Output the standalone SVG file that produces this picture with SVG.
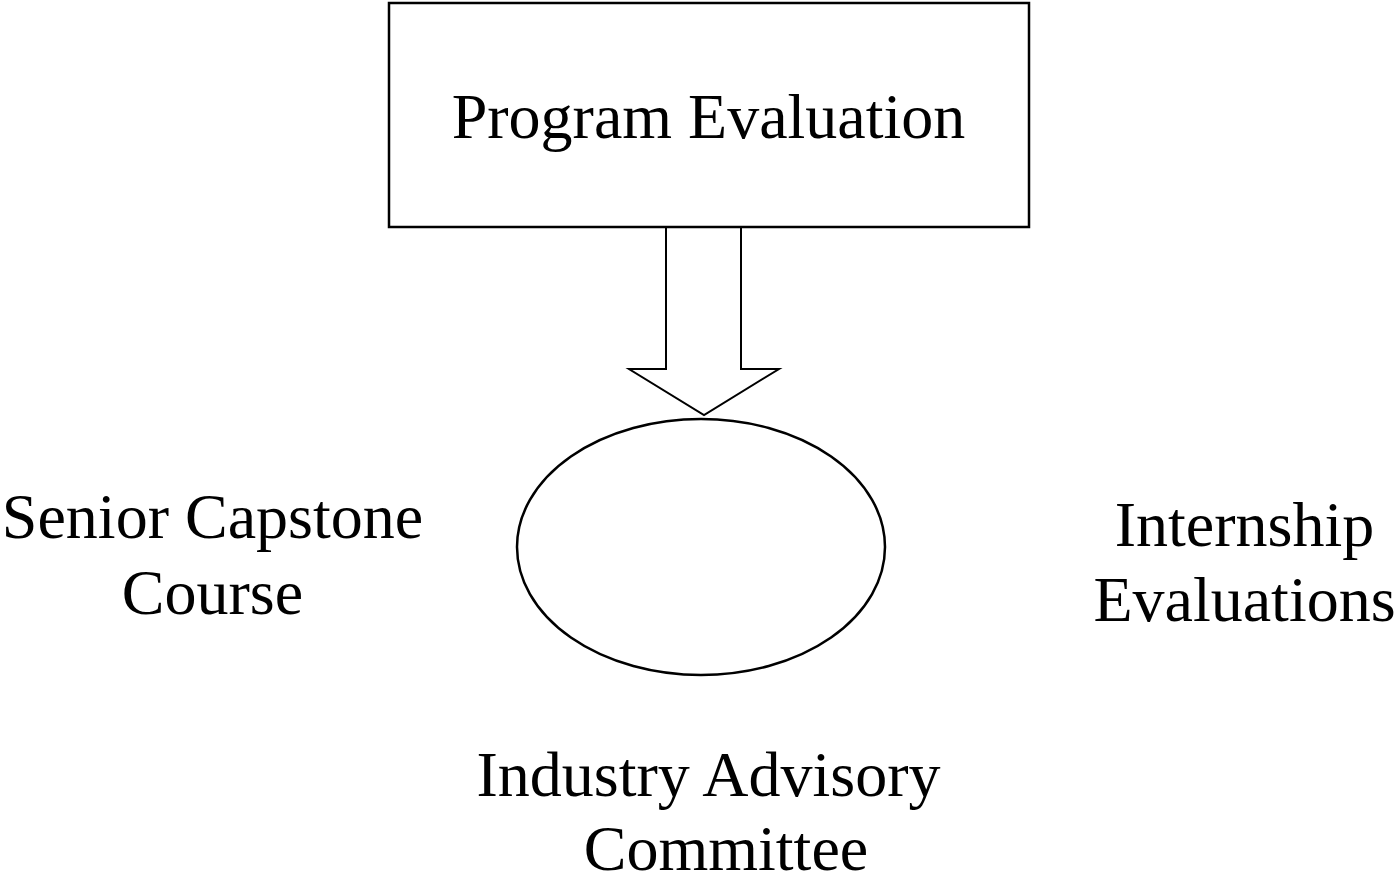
<svg xmlns="http://www.w3.org/2000/svg" width="1395" height="876" viewBox="0 0 1395 876">
  <style>
    .shape { fill: #ffffff; stroke: #000000; stroke-width: 2.5; }
    .arrow { fill: #ffffff; stroke: #000000; stroke-width: 2; stroke-linejoin: miter; }
    .label { font-family: "Liberation Serif", "Times New Roman", serif; font-size: 64px; fill: #000000; text-anchor: middle; }
  </style>
  <rect x="0" y="0" width="1395" height="876" fill="#ffffff"/>
  <g id="connectors">
    <polygon class="arrow" points="666,227 666,369 629,369 704,415 779,369 741,369 741,227"/>
  </g>
  <g id="program-evaluation">
    <rect class="shape" x="389" y="3" width="640" height="224"/>
    <text class="label" x="708.5" y="138">Program Evaluation</text>
  </g>
  <g id="center-ellipse">
    <ellipse class="shape" cx="701" cy="547" rx="184" ry="128"/>
  </g>
  <g id="senior-capstone">
    <text class="label" x="212.5" y="538">Senior Capstone</text>
    <text class="label" x="212.5" y="614">Course</text>
  </g>
  <g id="internship-evaluations">
    <text class="label" x="1244.5" y="546">Internship</text>
    <text class="label" x="1244.5" y="621">Evaluations</text>
  </g>
  <g id="industry-advisory">
    <text class="label" x="708.5" y="796">Industry Advisory</text>
    <text class="label" x="726" y="870">Committee</text>
  </g>
</svg>
